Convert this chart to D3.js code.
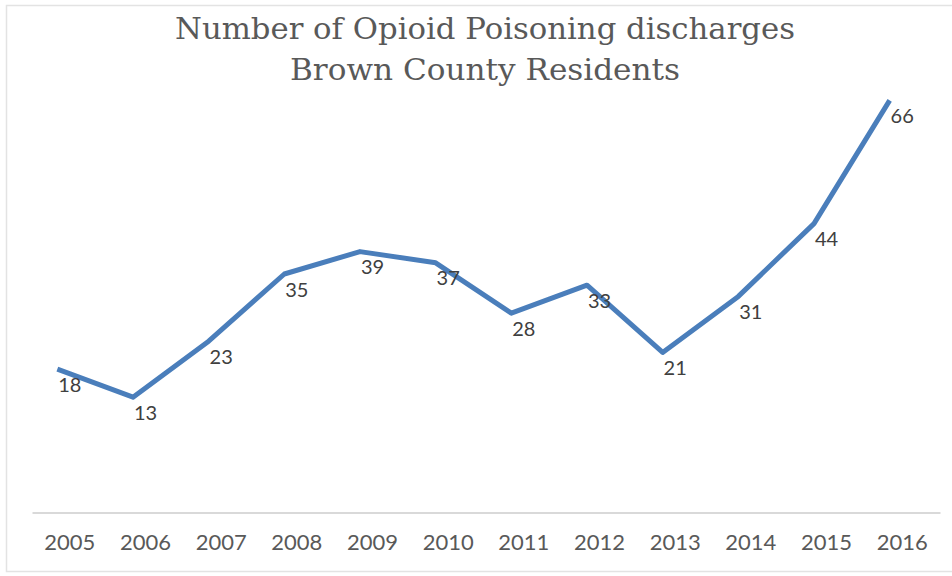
<!DOCTYPE html>
<html>
<head>
<meta charset="utf-8">
<script src="https://cdn.jsdelivr.net/npm/d3@7"></script>
<style>
  html, body { margin: 0; padding: 0; background: #fff; }
  svg { display: block; }
</style>
</head>
<body>
<svg id="chart" width="952" height="576"></svg>
<script>
const years = ["2005","2006","2007","2008","2009","2010","2011","2012","2013","2014","2015","2016"];
const discharges = [18, 13, 23, 35, 39, 37, 28, 33, 21, 31, 44, 66];
const titleLines = ["Number of Opioid Poisoning discharges", "Brown County Residents"];

const svg = d3.select("#chart");
const W = 952, H = 576;

// chart border
svg.append("rect")
  .attr("x", 6.5).attr("y", 5.5)
  .attr("width", 960).attr("height", 566)
  .attr("fill", "#fff")
  .attr("stroke", "#e3e3e3").attr("stroke-width", 1.5);

const x = d3.scaleBand().domain(years).range([32, 940]);
const y = d3.scaleLinear().domain([0, 70]).range([470, 78]);
const lineOffset = -12.5;
const px = d => x(d) + x.bandwidth() / 2 + lineOffset;

// title
const titleWidths = [620, 390];
const titleBaselines = [39, 80];
svg.append("g").selectAll("text")
  .data(titleLines)
  .join("text")
  .attr("x", 485)
  .attr("y", (d, i) => titleBaselines[i])
  .attr("text-anchor", "middle")
  .attr("font-family", "'DejaVu Serif', 'Liberation Serif', serif")
  .attr("font-size", 29)
  .attr("fill", "#595959")
  .attr("textLength", (d, i) => titleWidths[i])
  .attr("lengthAdjust", "spacingAndGlyphs")
  .text(d => d);

// x axis
const xAxis = d3.axisBottom(x).tickSize(0).tickPadding(0);
const gx = svg.append("g").attr("transform", "translate(0,512.5)").call(xAxis);
gx.select(".domain").attr("stroke", "#d9d9d9").attr("stroke-width", 2);
gx.selectAll(".tick text")
  .attr("y", 37)
  .attr("dy", 0)
  .attr("font-family", "Lato, 'Open Sans', sans-serif")
  .attr("font-size", 22)
  .attr("fill", "#595959");

// line
const line = d3.line()
  .x((d, i) => px(years[i]))
  .y(d => y(d));
svg.append("path")
  .datum(discharges)
  .attr("d", line)
  .attr("fill", "none")
  .attr("stroke", "#4a7ebb")
  .attr("stroke-width", 5)
  .attr("stroke-linejoin", "round")
  .attr("stroke-linecap", "butt");

// data labels
svg.append("g").selectAll("text")
  .data(discharges)
  .join("text")
  .attr("x", (d, i) => x(years[i]) + x.bandwidth() / 2)
  .attr("y", d => y(d) + 22.5)
  .attr("text-anchor", "middle")
  .attr("font-family", "Lato, 'Open Sans', sans-serif")
  .attr("font-size", 20)
  .attr("fill", "#404040")
  .text(d => d);
</script>
</body>
</html>
